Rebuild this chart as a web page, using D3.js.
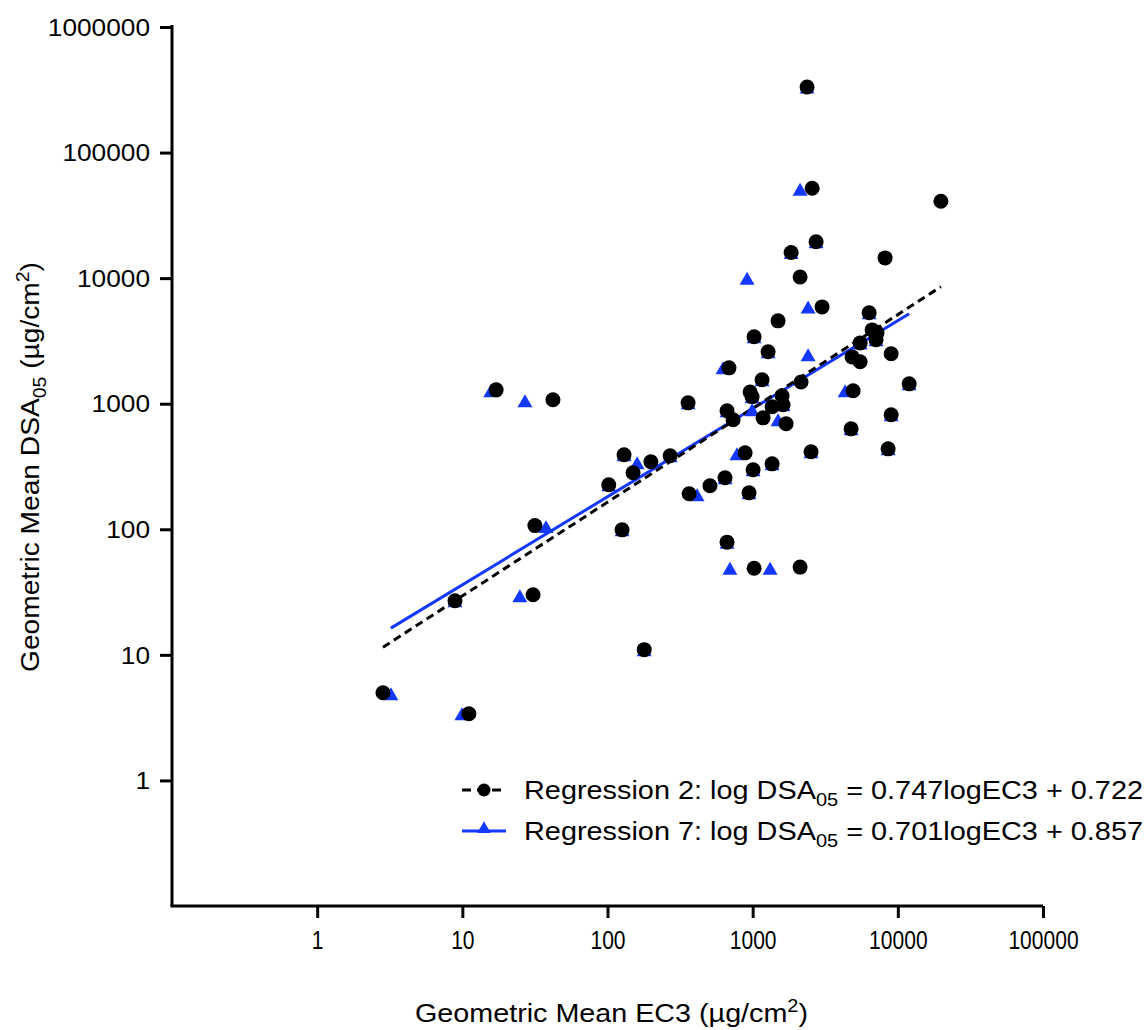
<!DOCTYPE html>
<html><head><meta charset="utf-8">
<script src="https://cdn.jsdelivr.net/npm/d3@7"></script>
<style>
  body { margin: 0; background: #fff; }
  svg { display: block; }
</style>
</head><body>
<svg id="chart" width="1148" height="1030"></svg>
<script>
// Regression 2 compounds (black circles): geometric mean EC3 and DSA05, µg/cm²
const reg2EC3 = [2370, 2570, 2735, 1841, 2122, 3007, 1496, 6342, 19800, 8170,
  1023, 1277, 6650, 7190, 7080, 5500, 4842, 5500, 8995, 687,
  1161, 2156, 4920, 960, 991, 359, 1594, 1361, 1620, 1180,
  1700, 666, 733, 4765, 8995, 8570, 11970, 2525, 887, 1361,
  1007, 645, 508, 365, 944, 666, 1023, 2122, 130, 199,
  270, 150, 102, 126, 179, 17.1, 42.1, 31.6, 8.9, 30.7,
  2.84, 11.1];
const reg2DSA = [333000, 52000, 19500, 16000, 10200, 5900, 4570, 5300, 41000, 14500,
  3410, 2590, 3870, 3670, 3230, 3050, 2360, 2160, 2500, 1930,
  1550, 1490, 1270, 1240, 1135, 1016, 1156, 945, 980, 772,
  692, 878, 745, 631, 816, 437, 1439, 414, 406, 332,
  298, 257, 222, 192, 195, 79, 49, 50, 392, 345,
  385, 282, 226, 99, 11, 1290, 1074, 107, 27, 30.1,
  4.99, 3.4];

// Regression 7 compounds (blue triangles)
const reg7EC3 = [2370, 2735, 1841, 6342, 1023, 1277, 7080, 5500, 1161, 991,
  359, 1620, 666, 4765, 8995, 8570, 11970, 2525, 1361, 1007,
  645, 944, 666, 130, 270, 102, 126, 179, 8.9,
  2122, 915, 2409, 2409, 625, 4335, 991, 1496, 780, 160,
  414, 697, 1318, 15.7, 27.0, 37.7, 24.9, 3.22, 9.94];
const reg7DSA = [333000, 19500, 16000, 5300, 3410, 2590, 3230, 3050, 1550, 1135,
  1016, 980, 878, 631, 816, 437, 1439, 414, 332, 298,
  257, 195, 79, 392, 385, 226, 99, 11, 27,
  51000, 10000, 5900, 2450, 1930, 1270, 894, 745, 399, 338,
  188, 49, 49, 1267, 1054, 105, 29.6, 4.9, 3.4];

// Fitted log-log regressions
const reg2Fit = { slope: 0.747, intercept: 0.722 };
const reg7Fit = { slope: 0.701, intercept: 0.857 };

const xTickValues = [1, 10, 100, 1000, 10000, 100000];
const yTickValues = [1, 10, 100, 1000, 10000, 100000, 1000000];

const legendEntries = [
  { name: "Regression 2", slope: "0.747", intercept: "0.722" },
  { name: "Regression 7", slope: "0.701", intercept: "0.857" }
];

const BLACK = "#000000";
const BLUE = "#1438ff";
const NARROW = "'Liberation Sans Narrow', 'Arial Narrow', 'Liberation Sans', Arial, sans-serif";
const REGULAR = "'Liberation Sans', Arial, Helvetica, sans-serif";

const svg = d3.select("#chart");

const x = d3.scaleLog().domain([0.1, 100000]).range([172, 1043]);
const y = d3.scaleLog().domain([0.1, 1000000]).range([906, 27]);

// Axes
const yAxis = svg.append("g")
  .attr("transform", "translate(172,0)")
  .call(d3.axisLeft(y).tickValues(yTickValues).tickSize(12).tickSizeOuter(0)
    .tickFormat(d3.format("d")));
yAxis.select(".domain").attr("stroke-width", 3).attr("d", "M0,25V906");
yAxis.selectAll(".tick line").attr("stroke-width", 3);
yAxis.selectAll(".tick text")
  .attr("x", -22).attr("dy", "0.36em")
  .attr("font-family", REGULAR).attr("font-size", 23).attr("fill", "#000")
  .attr("textLength", d => String(d).length * 14.6)
  .attr("lengthAdjust", "spacingAndGlyphs");

const xAxis = svg.append("g")
  .attr("transform", "translate(0,906)")
  .call(d3.axisBottom(x).tickValues(xTickValues).tickSize(12).tickSizeOuter(0)
    .tickFormat(d3.format("d")));
xAxis.select(".domain").attr("stroke-width", 3).attr("d", "M170.5,0H1043");
xAxis.selectAll(".tick line").attr("stroke-width", 3);
xAxis.selectAll(".tick text")
  .attr("y", 34).attr("dy", "0.36em")
  .attr("font-family", NARROW).attr("font-size", 26).attr("fill", "#000")
  .attr("textLength", d => String(d).length * 11.7)
  .attr("lengthAdjust", "spacingAndGlyphs");

// Axis titles
const xTitle = svg.append("text")
  .attr("x", 415).attr("y", 1022)
  .attr("font-family", NARROW).attr("font-size", 26)
  .attr("textLength", 393).attr("lengthAdjust", "spacingAndGlyphs");
xTitle.append("tspan").text("Geometric Mean EC3 (\u00B5g/cm");
xTitle.append("tspan").attr("font-size", 18).attr("dy", -10).text("2");
xTitle.append("tspan").attr("dy", 10).text(")");

const yTitle = svg.append("text")
  .attr("transform", "translate(39,672) rotate(-90)")
  .attr("font-family", NARROW).attr("font-size", 26)
  .attr("textLength", 410).attr("lengthAdjust", "spacingAndGlyphs");
yTitle.append("tspan").text("Geometric Mean DSA");
yTitle.append("tspan").attr("font-size", 18).attr("dy", 7).text("05");
yTitle.append("tspan").attr("dy", -7).text(" (\u00B5g/cm");
yTitle.append("tspan").attr("font-size", 18).attr("dy", -10).text("2");
yTitle.append("tspan").attr("dy", 10).text(")");

// Regression lines across each series' EC3 range
function fitLine(ec3, fit) {
  const [lo, hi] = d3.extent(ec3);
  return [lo, hi].map(v => [v, Math.pow(10, fit.slope * Math.log10(v) + fit.intercept)]);
}
const line = d3.line().x(d => x(d[0])).y(d => y(d[1]));

svg.append("path")
  .attr("d", line(fitLine(reg7EC3, reg7Fit)))
  .attr("fill", "none").attr("stroke", BLUE).attr("stroke-width", 3);
svg.append("path")
  .attr("d", line(fitLine(reg2EC3, reg2Fit)))
  .attr("fill", "none").attr("stroke", BLACK).attr("stroke-width", 3)
  .attr("stroke-dasharray", "8,5");

// Markers: triangles beneath, circles on top
const triSide = 15;
const triArea = Math.sqrt(3) / 4 * triSide * triSide;
const triH = Math.sqrt(3) / 2 * triSide;
const triangle = d3.symbol(d3.symbolTriangle, triArea);

svg.append("g").selectAll("path")
  .data(d3.zip(reg7EC3, reg7DSA))
  .join("path")
  .attr("d", triangle)
  .attr("transform", d => `translate(${x(d[0])},${y(d[1]) + triH / 6})`)
  .attr("fill", BLUE);

svg.append("g").selectAll("circle")
  .data(d3.zip(reg2EC3, reg2DSA))
  .join("circle")
  .attr("cx", d => x(d[0])).attr("cy", d => y(d[1])).attr("r", 7.5)
  .attr("fill", BLACK);

// Legend
const legend = svg.append("g");
legendEntries.forEach((e, i) => {
  const ly = 790 + i * 41;
  const g = legend.append("g");
  if (i === 0) {
    g.append("line").attr("x1", 462).attr("x2", 506).attr("y1", ly).attr("y2", ly)
      .attr("stroke", BLACK).attr("stroke-width", 3).attr("stroke-dasharray", "9,6");
    g.append("circle").attr("cx", 484).attr("cy", ly).attr("r", 6.5).attr("fill", BLACK);
  } else {
    g.append("line").attr("x1", 462).attr("x2", 506).attr("y1", ly).attr("y2", ly)
      .attr("stroke", BLUE).attr("stroke-width", 3);
    g.append("path").attr("d", d3.symbol(d3.symbolTriangle, 80))
      .attr("transform", `translate(484,${ly - 2})`).attr("fill", BLUE);
  }
  const t = g.append("text")
    .attr("x", 524).attr("y", ly + 9)
    .attr("font-family", NARROW).attr("font-size", 26)
    .attr("textLength", 619).attr("lengthAdjust", "spacingAndGlyphs");
  t.append("tspan").text(`${e.name}: log DSA`);
  t.append("tspan").attr("font-size", 18).attr("dy", 7).text("05");
  t.append("tspan").attr("dy", -7).text(` = ${e.slope}logEC3 + ${e.intercept}`);
});
</script>
</body></html>
